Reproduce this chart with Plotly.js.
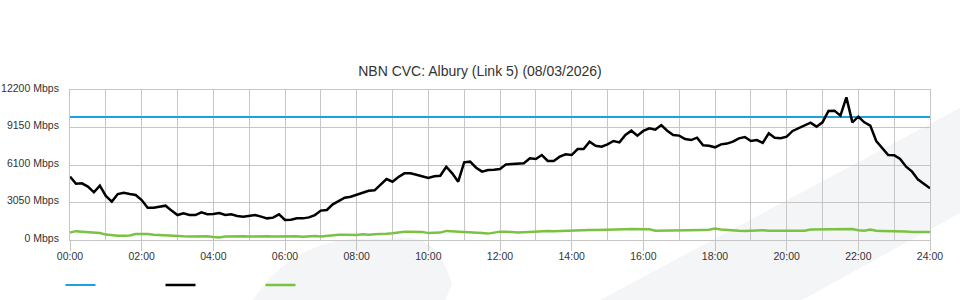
<!DOCTYPE html>
<html>
<head>
<meta charset="utf-8">
<script src="https://cdn.plot.ly/plotly-3.0.1.min.js"></script>
<style>html,body{margin:0;padding:0;background:#fff;}</style>
</head>
<body>
<div id="chart" style="width:960px;height:300px;"></div>
<script>
// ---- data (Mbps, 10-minute samples from 00:00 to 24:00) ----
const chartTitle = 'NBN CVC: Albury (Link 5) (08/03/2026)';

const tickHours = [0, 2, 4, 6, 8, 10, 12, 14, 16, 18, 20, 22, 24];
const tickLabels = ['00:00', '02:00', '04:00', '06:00', '08:00', '10:00', '12:00',
                    '14:00', '16:00', '18:00', '20:00', '22:00', '24:00'];

const yTickValues = [0, 3050, 6100, 9150, 12200];
const yTickLabels = ['0 Mbps', '3050 Mbps', '6100 Mbps', '9150 Mbps', '12200 Mbps'];

const capacityHours = [0, 24];
const capacityMbps = [10000, 10000];

const trafficDown = [
  5150, 4580, 4610, 4340, 3880, 4420,   // 00
  3580, 3120, 3740, 3850, 3740, 3660,   // 01
  3250, 2630, 2630, 2680, 2790, 2390,   // 02
  2030, 2170, 2030, 2030, 2250, 2090,   // 03
  2110, 2200, 2030, 2090, 1950, 1900,   // 04
  1980, 2030, 1900, 1760, 1820, 2090,   // 05
  1630, 1650, 1760, 1760, 1840, 2030,   // 06
  2390, 2440, 2900, 3200, 3440, 3520,   // 07
  3690, 3820, 4010, 4040, 4530, 4960,   // 08
  4740, 5120, 5420, 5420, 5310, 5150,   // 09
  5040, 5180, 5230, 5960, 5420, 4740,   // 10
  6320, 6370, 5880, 5560, 5690, 5720,   // 11
  5770, 6150, 6180, 6210, 6240, 6640,   // 12
  6590, 6910, 6430, 6430, 6780, 6970,   // 13
  6910, 7400, 7400, 8000, 7670, 7590,   // 14
  7780, 8050, 7940, 8540, 8890, 8490,   // 15
  8870, 9080, 8970, 9350, 8890, 8540,   // 16
  8490, 8210, 8130, 8320, 7700, 7670,   // 17
  7540, 7780, 7840, 8000, 8270, 8380,   // 18
  8050, 8130, 7890, 8680, 8320, 8270,   // 19
  8400, 8870, 9080, 9300, 9540, 9220,   // 20
  9570, 10490, 10520, 10110, 11600, 9570, // 21
  10030, 9570, 9300, 8050, 7460, 6910,  // 22
  6890, 6590, 5960, 5560, 4910, 4580,   // 23
  4200                                  // 24
];

const trafficUp = [
  600, 720, 680, 640, 620, 560,
  440, 370, 350, 350, 370, 480,
  490, 480, 430, 400, 330, 300,
  300, 300, 290, 300, 300, 300,
  240, 210, 280, 300, 260, 300,
  280, 300, 260, 300, 280, 300,
  300, 320, 300, 260, 300, 320,
  280, 340, 400, 420, 420, 400,
  400, 470, 420, 460, 460, 500,
  540, 640, 680, 680, 680, 660,
  560, 560, 600, 740, 720, 680,
  680, 660, 640, 560, 520, 600,
  680, 680, 640, 620, 640, 680,
  720, 740, 740, 720, 740, 780,
  790, 780, 800, 810, 810, 820,
  810, 820, 810, 880, 900, 900,
  900, 880, 760, 760, 800, 810,
  810, 820, 810, 810, 820, 830,
  930, 860, 810, 820, 760, 740,
  760, 820, 800, 760, 760, 760,
  800, 780, 740, 760, 860, 870,
  870, 870, 860, 870, 940, 900,
  800, 760, 860, 760, 740, 740,
  760, 740, 700, 660, 640, 640,
  650
];

// sample times in hours (10-minute steps)
const sampleHours = trafficDown.map((_, i) => i / 6);

const FONT = '"Liberation Sans", Arial, Helvetica, sans-serif';
const GRID = '#c6c6c6';

const traces = [
  { x: capacityHours, y: capacityMbps, type: 'scatter', mode: 'lines', name: ' ',
    line: { color: '#1aa3de', width: 2 }, hoverinfo: 'skip' },
  { x: sampleHours, y: trafficDown, type: 'scatter', mode: 'lines', name: ' ',
    line: { color: '#000000', width: 2.5 }, hoverinfo: 'skip' },
  { x: sampleHours, y: trafficUp, type: 'scatter', mode: 'lines', name: ' ',
    line: { color: '#7cc242', width: 2.5 }, hoverinfo: 'skip' }
];

const layout = {
  width: 960, height: 300,
  margin: { l: 70, r: 30, t: 90, b: 60, pad: 0, autoexpand: false },
  paper_bgcolor: '#ffffff',
  plot_bgcolor: 'rgba(0,0,0,0)',
  font: { family: FONT, size: 11, color: '#333333' },
  title: { text: chartTitle, x: 0.5, xref: 'container', xanchor: 'center',
           y: 1 - 71 / 300, yref: 'container', yanchor: 'middle',
           font: { family: FONT, size: 14, color: '#333333' } },
  showlegend: true,
  legend: { orientation: 'h', x: 60.5 / 960, xanchor: 'left', xref: 'container',
            y: 15 / 300, yanchor: 'middle', yref: 'container',
            entrywidth: 55, entrywidthmode: 'pixels', itemwidth: 30,
            bgcolor: 'rgba(0,0,0,0)', font: { size: 11 }, traceorder: 'normal' },
  xaxis: {
    range: [0, 24], tickmode: 'array', tickvals: tickHours, ticktext: tickLabels,
    showgrid: true, gridcolor: GRID, gridwidth: 1, zeroline: false,
    showline: true, mirror: true, linecolor: GRID, linewidth: 1,
    ticks: 'outside', ticklen: 10, tickcolor: GRID, tickwidth: 1,
    ticklabelstandoff: -4,
    tickfont: { family: FONT, size: 10.5, color: '#333333' },
    minor: { tickmode: 'linear', tick0: 0, dtick: 1, showgrid: true, gridcolor: GRID, gridwidth: 1, ticks: '' },
    automargin: false, fixedrange: true
  },
  yaxis: {
    range: [0, 12200], tickmode: 'array', tickvals: yTickValues, ticktext: yTickLabels,
    showgrid: true, gridcolor: GRID, gridwidth: 1, zeroline: false,
    showline: true, mirror: true, linecolor: GRID, linewidth: 1,
    ticks: 'outside', ticklen: 8, tickcolor: 'rgba(0,0,0,0)',
    ticklabelshift: -2,
    tickfont: { family: FONT, size: 10.5, color: '#333333' },
    automargin: false, fixedrange: true
  },
  shapes: [
    { type: 'path', xref: 'paper', yref: 'paper', layer: 'below',
      path: 'M 1.0349 0.88 L 0.6163 -0.4 L 0.8512 -0.4 L 1.0349 0.18 Z',
      fillcolor: '#f4f5f7', line: { width: 0 } },
    { type: 'path', xref: 'paper', yref: 'paper', layer: 'below',
      path: 'M 0.2128 -0.4 Q 0.2558 -0.0333 0.3256 0.0067 L 0.3953 0.0133 Q 0.4302 0.0 0.4442 -0.3 L 0.436 -0.4 Z',
      fillcolor: '#f4f5f7', line: { width: 0 } }
  ]
};

Plotly.newPlot('chart', traces, layout, { staticPlot: true, displayModeBar: false });
</script>
</body>
</html>
